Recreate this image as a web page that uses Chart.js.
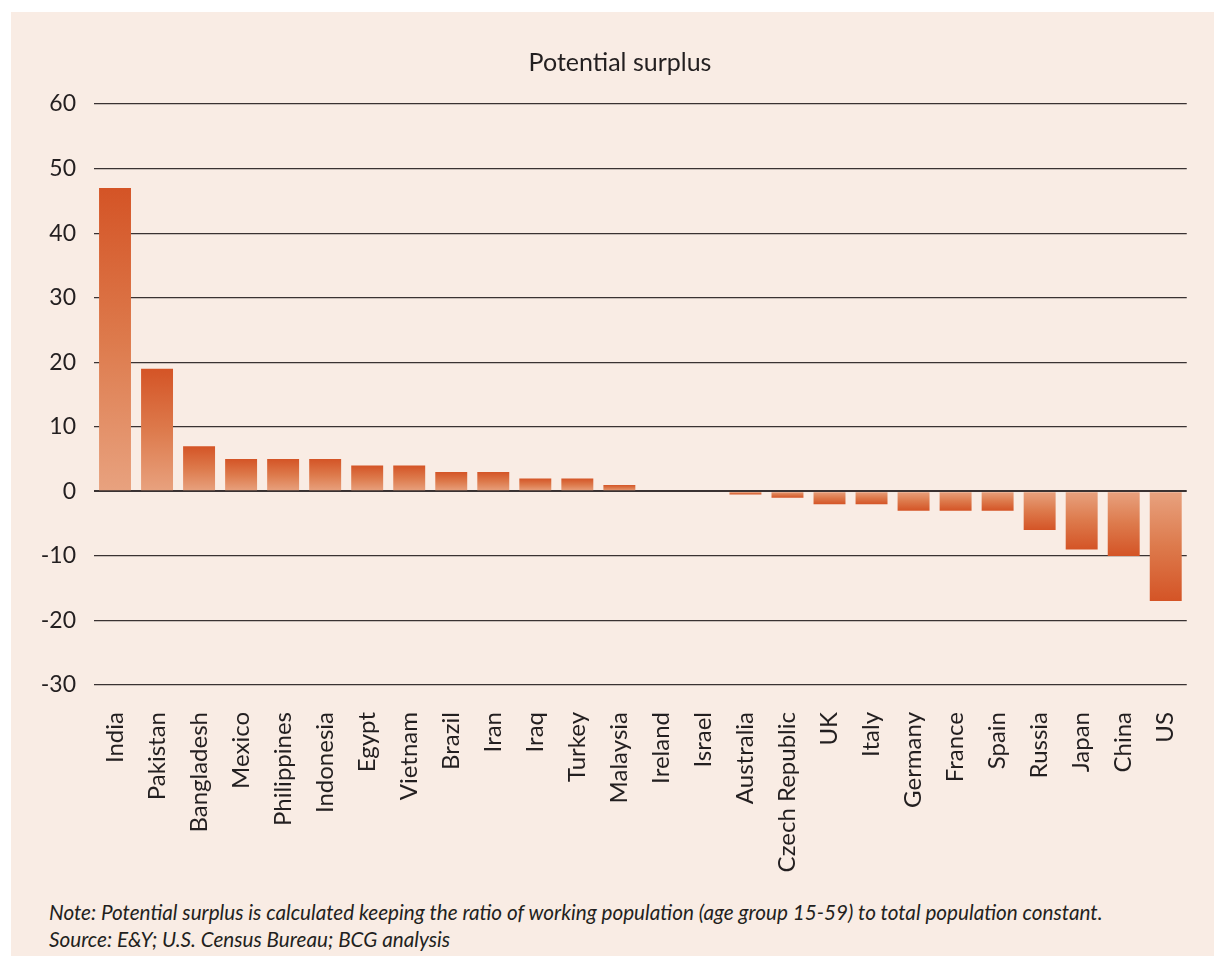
<!DOCTYPE html>
<html>
<head>
<meta charset="utf-8">
<script src="https://cdn.jsdelivr.net/npm/chart.js@4"></script>
<style>
  body { margin: 0; background: #fff; font-family: Lato, sans-serif; }
  #panel { position: absolute; left: 11px; top: 12px; width: 1203px; height: 944px; background: #f9ece4; }
  #wrap { position: absolute; left: 0; top: 0; width: 1203px; height: 880px; }
  #title { position: absolute; left: 409px; width: 400px; top: 34px; text-align: center; font-size: 25px; line-height: 30px; color: #231f20; }
  #note { position: absolute; left: 38px; top: 887px; font-style: italic; font-size: 20.7px; line-height: 27px; color: #231f20; white-space: nowrap; }
</style>
</head>
<body>
<div id="panel">
  <div id="wrap"><canvas id="surplusChart"></canvas></div>
  <div id="title">Potential surplus</div>
  <div id="note">Note: Potential surplus is calculated keeping the ratio of working population (age group 15-59) to total population constant.<br>Source: E&amp;Y; U.S. Census Bureau; BCG analysis</div>
</div>
<script>
// Paises y excedente potencial
const countries = ['India', 'Pakistan', 'Bangladesh', 'Mexico', 'Philippines', 'Indonesia', 'Egypt', 'Vietnam',
  'Brazil', 'Iran', 'Iraq', 'Turkey', 'Malaysia', 'Ireland', 'Israel', 'Australia', 'Czech Republic', 'UK',
  'Italy', 'Germany', 'France', 'Spain', 'Russia', 'Japan', 'China', 'US'];
const surplus = [47, 19, 7, 5, 5, 5, 4, 4, 3, 3, 2, 2, 1, 0, 0, -0.5, -1, -2, -2, -3, -3, -3, -6, -9, -10, -17];
const yTicks = [60, 50, 40, 30, 20, 10, 0, -10, -20, -30];

const textColor = '#231f20';
const gridColor = '#3a3232';

// Degradado de la punta (oscuro) hacia el cero (claro)
function barGradient(context) {
  const chart = context.chart;
  const { ctx, chartArea, scales } = chart;
  if (!chartArea || context.type !== 'data') return '#dc7646';
  const v = context.raw;
  const y0 = scales.y.getPixelForValue(0);
  const y1 = scales.y.getPixelForValue(v);
  if (y0 === y1) return '#dc7646';
  const g = ctx.createLinearGradient(0, y1, 0, y0);
  g.addColorStop(0, '#d45426');
  g.addColorStop(0.5, '#dd7a4c');
  g.addColorStop(1, '#e8a27f');
  return g;
}

new Chart(document.getElementById('surplusChart'), {
  type: 'bar',
  data: {
    labels: countries,
    datasets: [{
      data: surplus,
      backgroundColor: barGradient,
      borderWidth: 0,
      barPercentage: 0.76,
      categoryPercentage: 1
    }]
  },
  options: {
    responsive: true,
    maintainAspectRatio: false,
    animation: false,
    layout: { padding: { left: 0, right: 24, top: 92, bottom: 0 } },
    plugins: {
      legend: { display: false },
      tooltip: { enabled: false },
      title: { display: false }
    },
    scales: {
      x: {
        grid: { display: false },
        border: { display: false },
        ticks: {
          color: textColor,
          font: { family: 'Lato', size: 24 },
          minRotation: 90,
          maxRotation: 90,
          autoSkip: false,
          padding: 19
        },
        afterFit: s => { s.height = 207; }
      },
      y: {
        min: -30,
        max: 60,
        afterBuildTicks: s => { s.ticks = yTicks.map(v => ({ value: v })); },
        grid: {
          color: gridColor,
          lineWidth: c => (c.tick && c.tick.value === 0 ? 2 : 1.2),
          drawTicks: false
        },
        border: { display: false },
        ticks: {
          color: textColor,
          font: { family: 'Lato', size: 23 },
          padding: 18
        },
        afterFit: s => { s.width = 83; }
      }
    }
  }
});
</script>
</body>
</html>
